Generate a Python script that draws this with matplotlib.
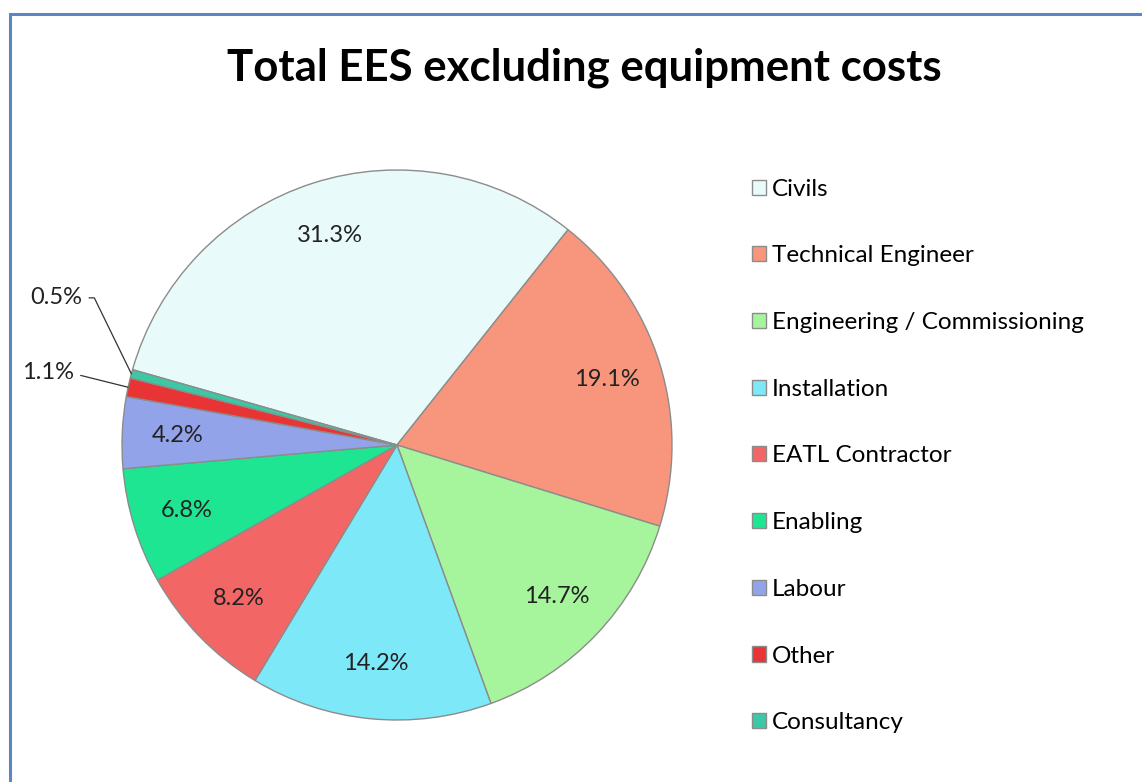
import numpy as np
import matplotlib
matplotlib.use("Agg")
import matplotlib.pyplot as plt
from matplotlib.patches import Rectangle

categories = ["Civils", "Technical Engineer", "Engineering / Commissioning",
              "Installation", "EATL Contractor", "Enabling", "Labour",
              "Other", "Consultancy"]
shares = [31.3, 19.1, 14.7, 14.2, 8.2, 6.8, 4.2, 1.1, 0.5]
colors = ["#E8FAFA", "#F7967C", "#A6F59C", "#7DE8F8", "#F26666",
          "#1EE592", "#93A3EA", "#E83434", "#3CC8A4"]

plt.rcParams['font.family'] = ['Lato', 'DejaVu Sans']

fig = plt.figure(figsize=(11.42, 7.82), dpi=100)

# chart frame (only left and top edges visible in the crop)
top = 1 - 14 / 782.
fig.add_artist(Rectangle((10 / 1142., -0.2), 1.3, top + 0.2,
                         transform=fig.transFigure, fill=False,
                         edgecolor="#5B86C2", lw=2.2))

ax = fig.add_axes([122 / 1142., 62 / 782., 550 / 1142., 550 / 782.])

start = 164.1


def fmt(p):
    return "%.1f%%" % p if p >= 3 else ""


wedges, texts, autotexts = ax.pie(shares, colors=colors, startangle=start,
                                  counterclock=False, autopct=fmt,
                                  pctdistance=0.8, radius=1.0,
                                  wedgeprops=dict(edgecolor="#8C8C8C", linewidth=1.0),
                                  textprops=dict(fontsize=17, color="#222222"))
ax.set_xlim(-1, 1)
ax.set_ylim(-1, 1)
ax.set_aspect("equal")

# small slices: label to the left with a bent leader line
# (text anchor in data units, angle of the slanted segment)
leaders = {"Consultancy": (-1.145, 0.535, 116), "Other": (-1.175, 0.262, 166)}
for w, name, val in zip(wedges, categories, shares):
    if name in leaders:
        th = np.deg2rad((w.theta1 + w.theta2) / 2.)
        tx, ty, angB = leaders[name]
        ax.annotate("%.1f%%" % val, xy=(np.cos(th), np.sin(th)), xytext=(tx, ty),
                    fontsize=17, color="#222222", ha="right", va="center",
                    annotation_clip=False,
                    arrowprops=dict(arrowstyle="-", color="#333333", lw=0.9,
                                    relpos=(1, 0.5), shrinkA=3, shrinkB=0,
                                    connectionstyle="angle,angleA=0,angleB=%d,rad=0" % angB))

fig.legend(wedges, categories, loc="upper left", bbox_to_anchor=(742 / 1142., 1 - 169 / 782.),
           frameon=False, fontsize=17.5, handlelength=0.58, handleheight=0.58,
           handletextpad=0.25, labelspacing=1.88, borderaxespad=0)

fig.text(584 / 1142., 1 - 68 / 782., "Total EES excluding equipment costs",
         ha="center", va="center", fontsize=31.5, fontweight="bold", color="black")

plt.savefig("out.png", dpi=100)
